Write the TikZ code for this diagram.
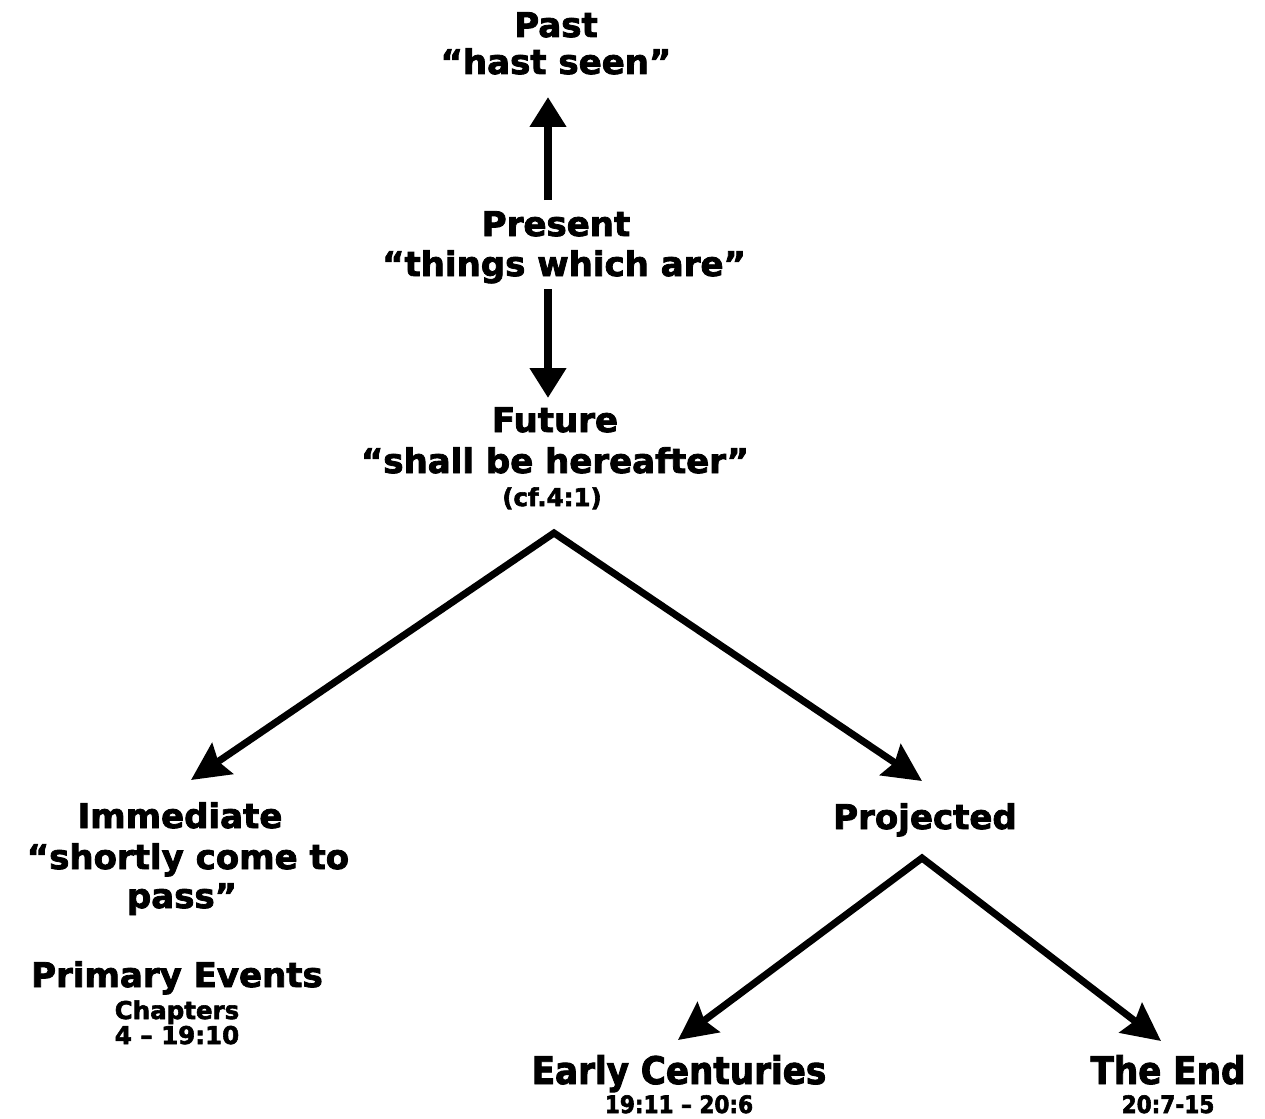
\documentclass[tikz,border=0pt]{standalone}
\usepackage{fontspec}
\setmainfont{DejaVu Sans}[BoldFeatures={FakeBold=2.4}]
\newfontfamily\condf{DejaVu Sans Condensed}[BoldFeatures={FakeBold=2.4}]
\usetikzlibrary{arrows.meta}
\tikzset{
  big/.style={font=\fontsize{34}{40}\selectfont\bfseries, inner sep=0pt, anchor=base},
  small/.style={font=\fontsize{24.5}{28}\selectfont\bfseries, inner sep=0pt, anchor=base},
  cbig/.style={font=\condf\fontsize{38}{44}\selectfont\bfseries, inner sep=0pt, anchor=base},
  csmall/.style={font=\condf\fontsize{24}{28}\selectfont\bfseries, inner sep=0pt, anchor=base},
  varr/.style={line width=8pt, -{Triangle[length=30pt,width=35pt]}},
  darr/.style={line width=7pt, line join=miter, {Stealth[length=38pt,width=37pt,inset=5pt]}-{Stealth[length=38pt,width=37pt,inset=5pt]}},
}
\begin{document}
\begin{tikzpicture}[x=1pt,y=-1pt]
\useasboundingbox (0,0) rectangle (1265,1118);
% top column
\node[big] (past) at (556,37) {Past};
\node[big] (hast) at (556,74) {“hast seen”};
\node[big] (present) at (556,236) {Present};
\node[big] (things) at (564,276) {“things which are”};
\node[big] (future) at (555,432) {Future};
\node[big] (shall) at (555,473) {“shall be hereafter”};
\node[small] (cf) at (552,506) {(cf.4:1)};
% left branch
\node[big] (immediate) at (180,828) {Immediate};
\node[big] (shortly) at (188,869) {“shortly come to};
\node[big] (pass) at (182,908) {pass”};
\node[big] (primary) at (177,987) {Primary Events};
\node[small] (chapters) at (177,1019) {Chapters};
\node[small] (chnum) at (177,1044) {4 – 19:10};
% right branch
\node[big] (projected) at (925,829) {Projected};
\node[cbig] (early) at (679,1084) {Early Centuries};
\node[csmall] (earlynum) at (679,1113) {19:11 – 20:6};
\node[cbig] (theend) at (1168,1084) {The End};
\node[csmall] (endnum) at (1168,1113) {20:7-15};
% connector end points
\coordinate (upS) at (548,200);
\coordinate (upE) at (548,97);
\coordinate (dnS) at (548,289);
\coordinate (dnE) at (548,398);
\coordinate (apex) at (554,533);
\coordinate (leftE) at (191,780);
\coordinate (rightE) at (922,781);
\coordinate (apex2) at (922,858);
\coordinate (eaE) at (678,1040);
\coordinate (enE) at (1161,1041);
% connectors
\draw[varr] (upS) -- (upE);
\draw[varr] (dnS) -- (dnE);
\draw[darr] (leftE) -- (apex) -- (rightE);
\draw[darr] (eaE) -- (apex2) -- (enE);
\end{tikzpicture}
\end{document}
